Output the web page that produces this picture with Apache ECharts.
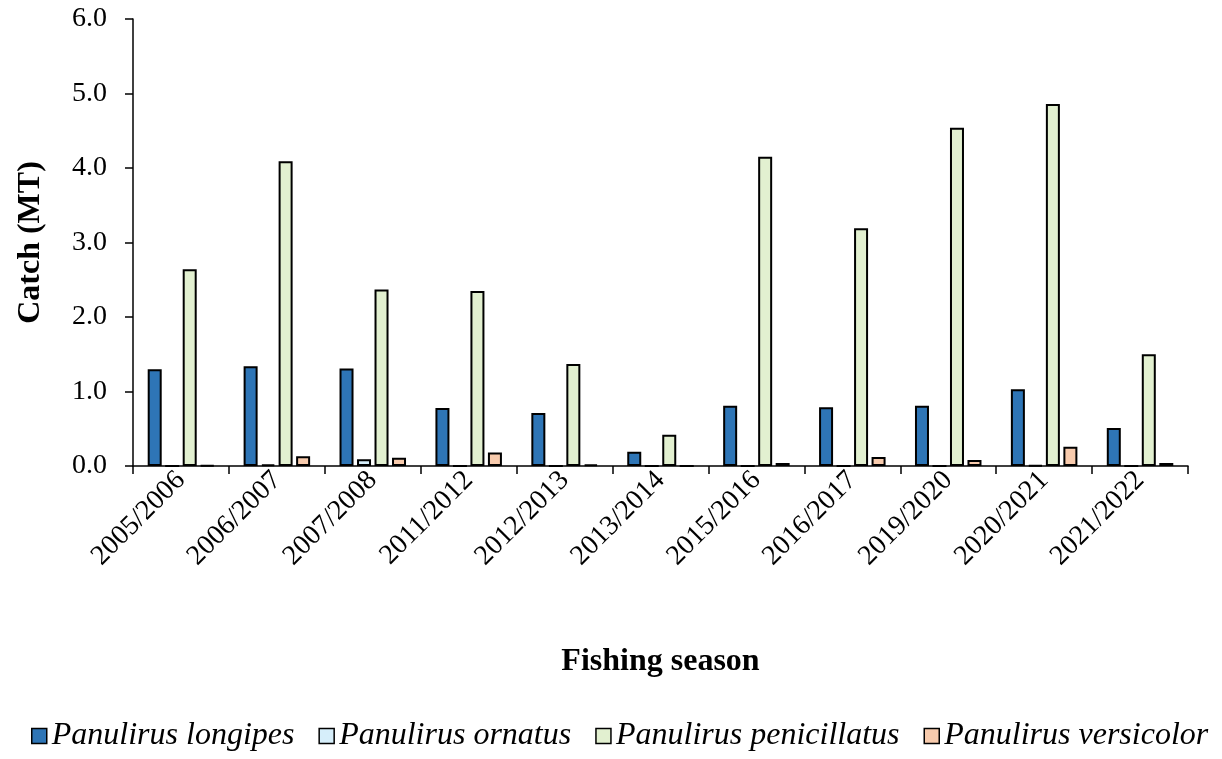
<!DOCTYPE html>
<html>
<head>
<meta charset="utf-8">
<script src="https://cdn.jsdelivr.net/npm/echarts@6/dist/echarts.min.js"></script>
<style>
  html, body { margin: 0; padding: 0; background: #fff; }
  #chart { width: 1222px; height: 759px; }
</style>
</head>
<body>
<div id="chart"></div>
<script>
const seasons = ['2005/2006', '2006/2007', '2007/2008', '2011/2012', '2012/2013', '2013/2014',
  '2015/2016', '2016/2017', '2019/2020', '2020/2021', '2021/2022'];

const longipes = [1.30, 1.34, 1.31, 0.78, 0.71, 0.19, 0.81, 0.79, 0.81, 1.03, 0.51];
const ornatus = [0.00, 0.02, 0.09, 0.00, 0.00, 0.00, 0.00, 0.00, 0.00, 0.01, 0.00];
const penicillatus = [2.64, 4.09, 2.37, 2.35, 1.37, 0.42, 4.15, 3.19, 4.54, 4.86, 1.50];
const versicolor = [0.01, 0.13, 0.11, 0.18, 0.02, 0.00, 0.04, 0.12, 0.08, 0.26, 0.04];

const font = 'Liberation Serif, Times New Roman, serif';

const chart = echarts.init(document.getElementById('chart'));

function makeSeries(name, data, color) {
  return {
    name: name,
    type: 'bar',
    data: data,
    barWidth: 14,
    barGap: '25%',
    itemStyle: { color: color, borderColor: '#000', borderWidth: 2 },
    emphasis: { disabled: true },
  };
}

chart.setOption({
  animation: false,
  textStyle: { fontFamily: font },
  grid: { left: 133, right: 34, top: 19, bottom: 293, containLabel: false },
  legend: {
    bottom: 2,
    left: 26,
    right: 0,
    padding: [5, 0, 5, 5],
    itemWidth: 15,
    itemHeight: 15,
    itemGap: 24,
    icon: 'rect',
    textStyle: { fontFamily: font, fontStyle: 'italic', fontSize: 32, color: '#000' },
    itemStyle: { borderColor: '#000', borderWidth: 1.5 },
  },
  xAxis: {
    type: 'category',
    data: seasons,
    name: 'Fishing season',
    nameLocation: 'middle',
    nameGap: 180,
    nameTextStyle: { fontFamily: font, fontWeight: 'bold', fontSize: 32, color: '#000' },
    axisLine: { lineStyle: { color: '#000', width: 1.5 } },
    axisTick: { show: true, length: 8, lineStyle: { color: '#000', width: 1.5 } },
    axisLabel: { rotate: 45, fontSize: 28, color: '#000', margin: 10, fontFamily: font },
  },
  yAxis: {
    type: 'value',
    min: 0,
    max: 6,
    interval: 1,
    name: 'Catch (MT)',
    nameLocation: 'middle',
    nameGap: 86,
    nameTextStyle: { fontFamily: font, fontWeight: 'bold', fontSize: 32, color: '#000' },
    axisLine: { show: true, lineStyle: { color: '#000', width: 1.5 } },
    axisTick: { show: true, length: 8, lineStyle: { color: '#000', width: 1.5 } },
    axisLabel: { fontSize: 28, color: '#000', margin: 26, fontFamily: font,
      formatter: v => v.toFixed(1) },
    splitLine: { show: false },
  },
  series: [
    makeSeries('Panulirus longipes', longipes, '#2E75B6'),
    makeSeries('Panulirus ornatus', ornatus, '#D6EEFA'),
    makeSeries('Panulirus penicillatus', penicillatus, '#E2F0D0'),
    makeSeries('Panulirus versicolor', versicolor, '#F8CBAD'),
  ],
});
</script>
</body>
</html>
